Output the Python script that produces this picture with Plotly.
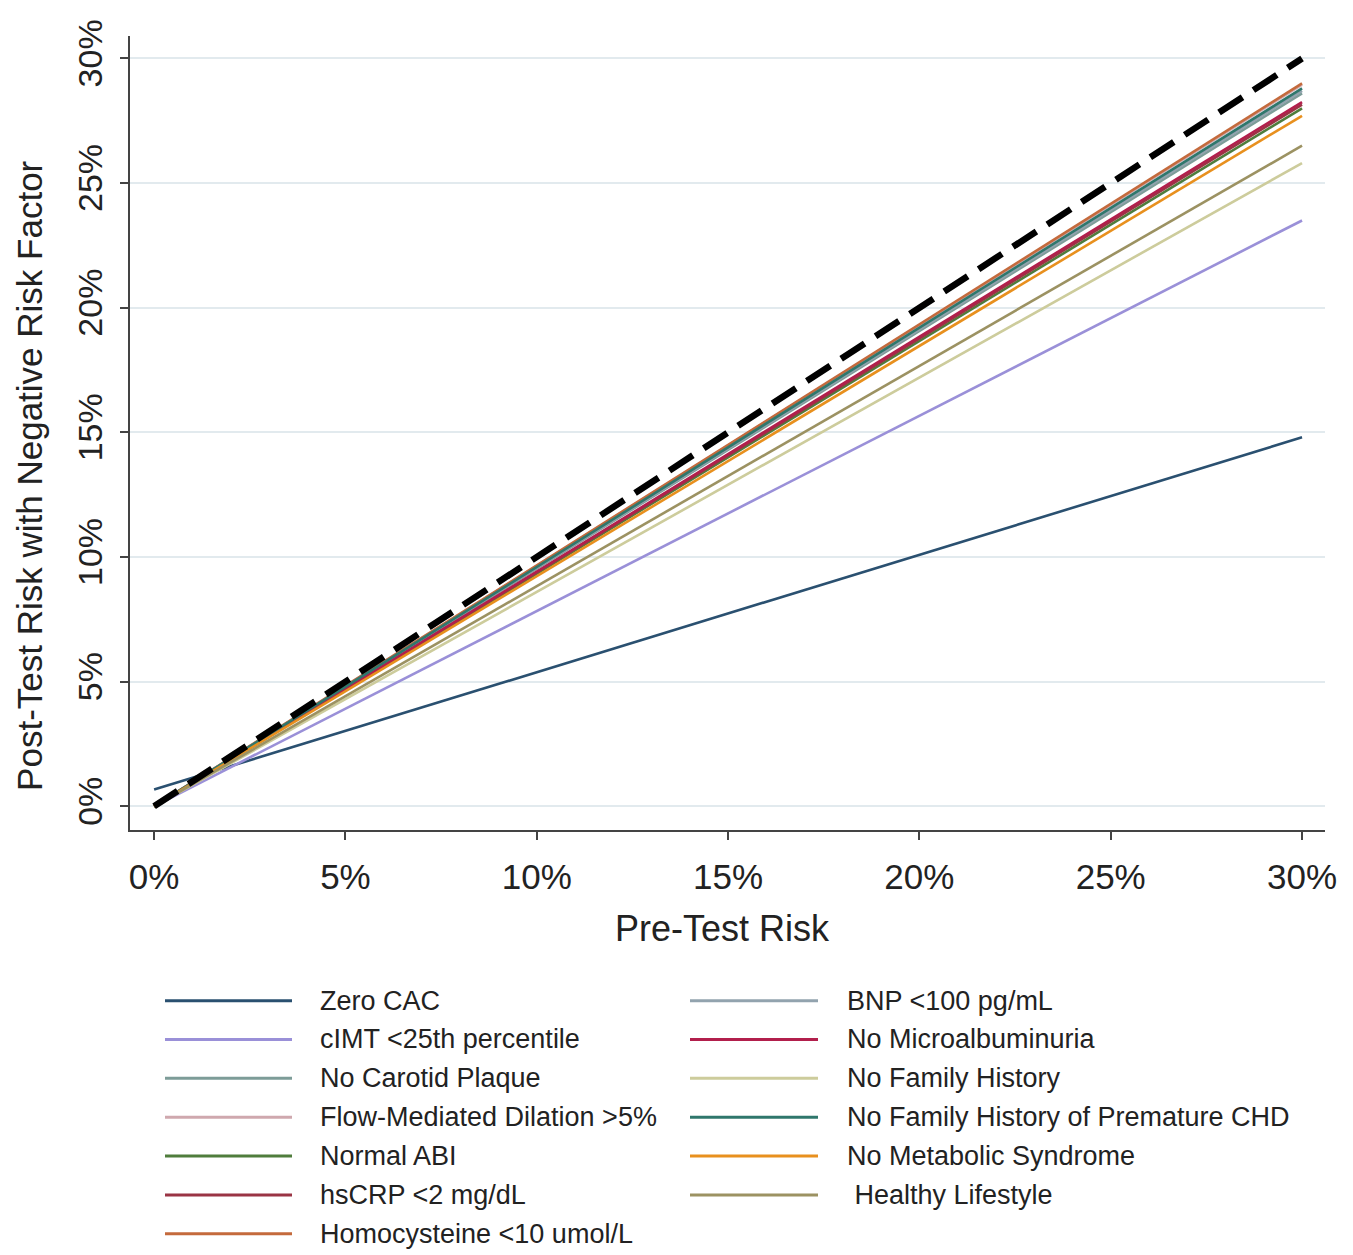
import plotly.graph_objects as go

# ---------------- data ----------------
pre_test = [0, 30]  # Pre-test risk (%)

series_names = [
    "Zero CAC",
    "cIMT <25th percentile",
    "No Carotid Plaque",
    "Flow-Mediated Dilation >5%",
    "Normal ABI",
    "hsCRP <2 mg/dL",
    "Homocysteine <10 umol/L",
    "BNP <100 pg/mL",
    "No Microalbuminuria",
    "No Family History",
    "No Family History of Premature CHD",
    "No Metabolic Syndrome",
    " Healthy Lifestyle",
]
# post-test risk (%) at pre-test 0% and 30%
post_at_0 = [0.67, 0, 0, 0, 0, 0, 0, 0, 0, 0, 0, 0, 0]
post_at_30 = [14.8, 23.5, 28.6, 28.95, 28.0, 28.15, 29.0, 28.7, 28.25, 25.8, 28.8, 27.7, 26.5]
series_colors = [
    "#2a5070", "#9a90d8", "#7d9c98", "#cfa8ae", "#4f7d3c", "#9a3444", "#c46a3c",
    "#92a3ae", "#b21f4c", "#cdcc9c", "#2f776c", "#e8901e", "#9c9262",
]
reference_x = [0, 30]
reference_y = [0, 30]

x_ticks = [0, 5, 10, 15, 20, 25, 30]
y_ticks = [0, 5, 10, 15, 20, 25, 30]

# ---------------- layout geometry ----------------
OFF = 8  # browser default body margin
W, H = 1353 - OFF, 1255 - OFF
L, T = 130 - OFF, 25 - OFF
R = W - (1325 - OFF)
B = H - (830 - OFF)
PW, PH = W - L - R, H - T - B


def px2paper_x(px):
    return (px - OFF - L) / PW


def px2paper_y(py):
    return (H - B - (py - OFF)) / PH


fig = go.Figure()

for name, y0, y30, col in zip(series_names, post_at_0, post_at_30, series_colors):
    fig.add_trace(go.Scatter(
        x=pre_test, y=[y0, y30], mode="lines", name=name,
        line=dict(color=col, width=2.6), showlegend=False,
    ))

fig.add_trace(go.Scatter(
    x=reference_x, y=reference_y, mode="lines", name="Reference",
    line=dict(color="black", width=6.5, dash="28px,13px"), showlegend=False,
))

font_family = "Liberation Sans, Arial, sans-serif"
text_col = "#222222"

fig.update_layout(
    width=W, height=H,
    margin=dict(l=L, r=R, t=T, b=B),
    paper_bgcolor="white", plot_bgcolor="white",
    font=dict(family=font_family, color=text_col),
    showlegend=False,
    xaxis=dict(
        range=[-0.63, 30.6], tickvals=x_ticks, ticktext=[f"{v}%" for v in x_ticks],
        showgrid=False, zeroline=False, showline=True, linecolor="#444", linewidth=1.5,
        ticks="outside", ticklen=8, tickcolor="#444", tickwidth=1.5,
        tickfont=dict(size=35, color=text_col), ticklabelstandoff=7,
    ),
    yaxis=dict(
        range=[-0.95, 30.9], tickvals=y_ticks, ticktext=[f"{v}%" for v in y_ticks],
        showgrid=True, gridcolor="#e2eaee", gridwidth=1.5, zeroline=False,
        showline=True, linecolor="#444", linewidth=1.5,
        ticks="outside", ticklen=8, tickcolor="#444", tickwidth=1.5,
        tickangle=-90, tickfont=dict(size=34, color=text_col), ticklabelstandoff=5,
    ),
)

annotations = [
    dict(text="Pre-Test Risk", x=px2paper_x(722), y=px2paper_y(930), xref="paper", yref="paper",
         showarrow=False, font=dict(size=36, color=text_col), xanchor="center", yanchor="middle"),
    dict(text="Post-Test Risk with Negative Risk Factor", x=px2paper_x(30), y=px2paper_y(471),
         xref="paper", yref="paper", textangle=-90,
         showarrow=False, font=dict(size=35, color=text_col), xanchor="center", yanchor="middle"),
]

# ---------------- manual two-column legend ----------------
shapes = []
row_y0, row_dy = 1003, 39.4
col_line = [(165, 292, 318), (690, 818, 845)]
n_col1 = 7
for i, (name, col) in enumerate(zip(series_names, series_colors)):
    c = 0 if i < n_col1 else 1
    r = i if i < n_col1 else i - n_col1
    yy = row_y0 + r * row_dy
    x0, x1, xt = col_line[c]
    shapes.append(dict(type="line", xref="paper", yref="paper",
                       x0=px2paper_x(x0), x1=px2paper_x(x1),
                       y0=px2paper_y(yy), y1=px2paper_y(yy),
                       line=dict(color=col, width=3)))
    annotations.append(dict(text=name.replace(" ", "&nbsp;", 1) if name.startswith(" ") else name,
                            x=px2paper_x(xt), y=px2paper_y(yy),
                            xref="paper", yref="paper", showarrow=False,
                            xanchor="left", yanchor="middle",
                            font=dict(size=27, color=text_col)))

fig.update_layout(annotations=annotations, shapes=shapes)

fig.write_html("out.html")
